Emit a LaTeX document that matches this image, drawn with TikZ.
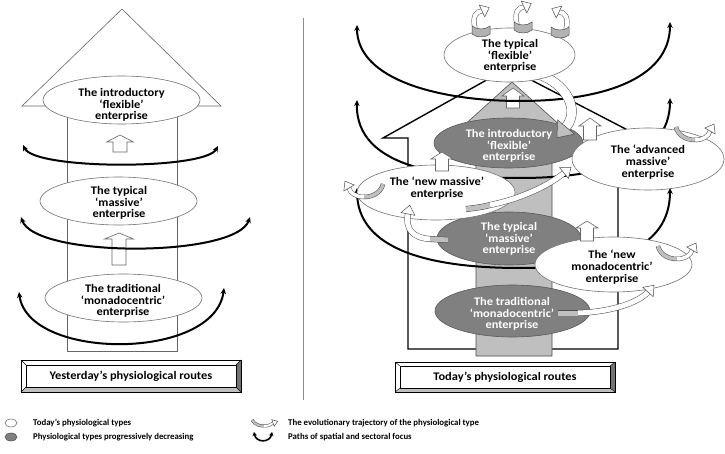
\documentclass[tikz,border=0pt]{standalone}
\usepackage{fontspec}
\setmainfont{Carlito}
\newfontfamily\lblfont{Carlito}[FakeStretch=1.07]
\usetikzlibrary{shapes.geometric,arrows.meta}
\newcommand\hollowup[6]{%
  \filldraw[hol] (#1,#2) -- ({#1+#5},#3) -- ({#1+#6},#3) -- ({#1+#6},#4) -- ({#1-#6},#4) -- ({#1-#6},#3) -- ({#1-#5},#3) -- cycle;}
\begin{document}
\begin{tikzpicture}[x=1pt,y=-1pt,
  lbl/.style={font=\lblfont\bfseries\fontsize{11.6}{11.7}\selectfont, align=center, inner sep=0pt},
  lgd/.style={font=\bfseries\fontsize{8.8}{10}\selectfont, anchor=west, inner sep=0pt},
  wel/.style={ellipse, draw=black!55, line width=0.6pt, fill=white, inner sep=0pt},
  gel/.style={ellipse, draw=black!65, line width=0.6pt, fill=black!50, inner sep=0pt},
  hol/.style={draw=black!60, line width=0.6pt, fill=white},
  focus/.style={line width=2pt, {Stealth[length=6pt,width=5.5pt]}-{Stealth[length=6pt,width=5.5pt]}},
  rbw/.style={draw=black!70, line width=0.5pt, double=white, double distance=#1},
  rbg/.style={draw=black!70, line width=0.5pt, double=black!25, double distance=#1},
  hdw/.style={draw=black!70, line width=0.5pt, fill=white},
  hdg/.style={draw=black!70, line width=0.5pt, fill=black!25},
  uswirl/.pic={
    \draw[rbg=3.5pt] (-19,-6) .. controls (-17,3) and (-8,7) .. (0,7);
    \draw[rbw=3.5pt] (0,7) .. controls (8,7) and (14,3) .. (15,-2);
    \filldraw[hdw, shift={(15,-2)}, rotate=60] (0,-6) -- (8,0) -- (0,6) -- cycle;
  },
  rswirl/.pic={
    \draw[rbw=4pt] (-6,2) .. controls (-9,-9) and (-5,-15) .. (1,-15);
    \filldraw[hdw, shift={(1,-15)}, rotate=25] (0,-6.5) -- (8,0) -- (0,6.5) -- cycle;
    \filldraw[fill=black!30, draw=black!70, line width=0.5pt] (-9,0) .. controls (-4,4) and (4,4) .. (9,0) -- (9,8) .. controls (4,12) and (-4,12) .. (-9,8) -- cycle;
  }
]
\useasboundingbox (0,0) rectangle (725,454);
\fill[white] (0,0) rectangle (725,454);

% divider
\draw[black!45, line width=0.8pt] (303,18) -- (303,400);

% ================= LEFT =================
\filldraw[draw=black!60, line width=0.6pt, fill=white] (22,106) -- (122,9) -- (221,106) -- cycle;
\draw[draw=black!60, line width=0.6pt] (67,106) -- (67,351) -- (177,351) -- (177,106);

\hollowup{120}{135}{142}{152}{13.5}{7}
\hollowup{119}{233}{239}{265}{14.5}{7}

\draw[focus] (23,145) .. controls (35,170) and (205,170) .. (218,146);
\draw[focus] (21,217) .. controls (35,258) and (236,258) .. (250,217);
\draw[focus] (19,292) .. controls (28,361) and (215,361) .. (224,288);

\node[wel, minimum width=157pt, minimum height=48pt] (lintro) at (121.5,100) {};
\node[lbl] (lintrot) at (121.5,105) {The introductory\\‘flexible’\\enterprise};
\node[wel, minimum width=157pt, minimum height=48pt] (lmass) at (118.5,201) {};
\node[lbl] (lmasst) at (119,203) {The typical\\‘massive’\\enterprise};
\node[wel, minimum width=157pt, minimum height=48pt] (ltrad) at (123.5,298) {};
\node[lbl] (ltradt) at (123,301) {The traditional\\‘monadocentric’\\enterprise};

% left caption
\fill[white] (21,360) rectangle (241,392);
\fill[black!55] (241,360) -- (241,392) -- (236,387) -- (236,365) -- cycle;
\fill[black!25] (21,392) -- (241,392) -- (236,387) -- (26,387) -- cycle;
\draw[line width=0.6pt] (21,360) rectangle (241,392);
\draw[line width=0.5pt] (26,365) rectangle (236,387);
\draw[line width=0.4pt] (21,360) -- (26,365) (241,360) -- (236,365) (21,392) -- (26,387) (241,392) -- (236,387);
\node[lbl] (capl) at (131,376) {Yesterday’s physiological routes};

% ================= RIGHT =================
\draw[line width=1.4pt, line join=miter] (408,349) -- (408,138) -- (383,138) -- (508,68) -- (643,138) -- (618,138) -- (618,349) -- cycle;
\filldraw[fill=black!25, draw=black!70, line width=0.6pt] (476,356) -- (476,128) -- (461,128) -- (512,82) -- (563,128) -- (552,128) -- (552,356) -- cycle;

\hollowup{513}{88}{96}{108}{11}{6.5}

\draw[focus] (357,25) .. controls (357,80) and (440,101) .. (520,101) .. controls (600,101) and (670,80) .. (670,22);
\draw[focus] (357,100) .. controls (355,170) and (450,178) .. (520,178) .. controls (600,178) and (670,160) .. (670,98);
\draw[focus] (357,188) .. controls (357,250) and (430,268) .. (520,268) .. controls (610,268) and (670,250) .. (670,188);

\node[gel, minimum width=149pt, minimum height=50pt] (rintro) at (508.5,143) {};
\node[lbl, text=white] (rintrot) at (509,146) {The introductory\\‘flexible’\\enterprise};

% big trajectory flexible -> introductory
\draw[rbw=9pt] (538,74) .. controls (567,84) and (580,110) .. (566,127);
\filldraw[hdg, shift={(566,127)}, rotate=-130] (0,-11) -- (14,0) -- (0,11) -- cycle;

\node[wel, minimum width=131pt, minimum height=54pt] (rflex) at (509.5,55) {};
\node[lbl] (rflext) at (510,56) {The typical\\‘flexible’\\enterprise};

\node[wel, minimum width=152pt, minimum height=62pt] (radv) at (648,159) {};
\node[lbl] (radvt) at (648,162) {The ‘advanced\\massive’\\enterprise};

\node[gel, minimum width=144pt, minimum height=53pt] (rtyp) at (509,238.5) {};
\node[lbl, text=white] (rtypt) at (509,239) {The typical\\‘massive’\\enterprise};

\node[wel, minimum width=158pt, minimum height=55pt] (rnewm) at (436,192.5) {};
\node[lbl] (rnewmt) at (437,188) {The ‘new massive’\\enterprise};

\node[gel, minimum width=155pt, minimum height=52pt] (rtrad) at (512.5,311) {};
\node[lbl, text=white] (rtradt) at (512,314) {The traditional\\‘monadocentric’\\enterprise};

\node[wel, minimum width=157pt, minimum height=55pt] (rnmono) at (613.5,264.5) {};
\node[lbl] (rnmonot) at (612,267) {The ‘new\\monadocentric’\\enterprise};

\hollowup{590}{118}{126}{140}{11}{6.5}
\hollowup{442}{152}{159}{171}{11}{6.5}
\hollowup{587}{221}{228}{241}{11}{6.5}

% trajectories
\draw[rbg=5pt] (466,209) .. controls (475,208) and (483,207) .. (490,205);
\draw[rbw=5pt] (490,205) .. controls (520,199) and (548,186) .. (564,173);
\filldraw[hdw, shift={(564,173)}, rotate=39] (0,-7) -- (9,0) -- (0,7) -- cycle;

\draw[rbg=5pt] (448,240) -- (430,239);
\draw[rbw=5pt] (430,239) .. controls (413,238) and (405,229) .. (408,214);
\filldraw[hdw, shift={(408,214)}, rotate=79] (0,-7) -- (9,0) -- (0,7) -- cycle;

\draw[rbg=5pt] (558,313) -- (578,313);
\draw[rbw=5pt] (578,313) .. controls (610,312) and (638,303) .. (648,292);
\filldraw[hdw, shift={(648,292)}, rotate=48] (0,-7) -- (9,0) -- (0,7) -- cycle;

\pic at (481,26) {rswirl};
\pic at (523,22) {rswirl};
\pic[xscale=-1] at (560,27) {rswirl};
\pic at (695,133) {uswirl};
\pic at (677,252) {uswirl};
\pic[xscale=-1] at (364,190) {uswirl};

% right caption
\fill[white] (395,362) rectangle (615,392);
\fill[black!55] (615,362) -- (615,392) -- (610,388) -- (610,366) -- cycle;
\fill[black!25] (395,392) -- (615,392) -- (610,388) -- (400,388) -- cycle;
\draw[line width=0.6pt] (395,362) rectangle (615,392);
\draw[line width=0.5pt] (400,366) rectangle (610,388);
\draw[line width=0.4pt] (395,362) -- (400,366) (615,362) -- (610,366) (395,392) -- (400,388) (615,392) -- (610,388);
\node[lbl] (capr) at (505,377) {Today’s physiological routes};

% ================= LEGEND =================
\node[ellipse, draw=black!55, line width=0.6pt, fill=white, minimum width=12pt, minimum height=8pt, inner sep=0pt] (lg1) at (11,423) {};
\node[ellipse, draw=black!65, line width=0.6pt, fill=black!50, minimum width=12pt, minimum height=8pt, inner sep=0pt] (lg2) at (11,437) {};
\node[lgd] (lt1) at (33,423) {Today’s physiological types};
\node[lgd] (lt2) at (33,437) {Physiological types progressively decreasing};
\draw[rbg=2pt] (252,420) .. controls (255,425) and (260,426) .. (264,426);
\draw[rbw=2pt] (264,426) .. controls (268,426) and (271,425) .. (273,423);
\filldraw[hdw, shift={(273,423)}, rotate=20] (0,-3.5) -- (5,0) -- (0,3.5) -- cycle;
\draw[line width=1.6pt, {Stealth[length=4pt,width=4.5pt]}-{Stealth[length=4pt,width=4.5pt]}] (254,432) .. controls (256,443) and (270,443) .. (272,432);
\node[lgd] (lt3) at (288,423) {The evolutionary trajectory of the physiological type};
\node[lgd] (lt4) at (288,437) {Paths of spatial and sectoral focus};
\end{tikzpicture}
\end{document}
